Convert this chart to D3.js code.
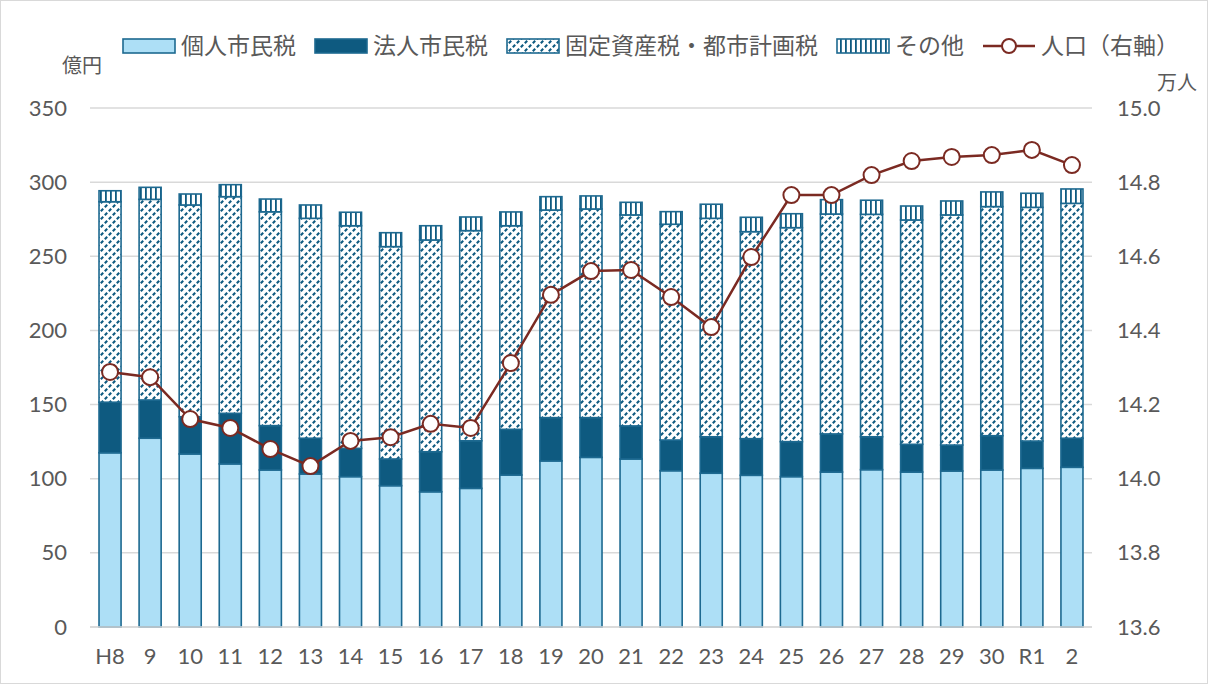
<!DOCTYPE html>
<html>
<head>
<meta charset="utf-8">
<script src="https://cdn.jsdelivr.net/npm/d3@7"></script>
<style>
  body { margin: 0; background: #fff; }
  svg text { font-family: "Lato", "Noto Sans CJK JP", sans-serif; fill: #595959; }
</style>
</head>
<body>
<svg id="chart" width="1208" height="684"></svg>
<script>
var categories = ["H8","9","10","11","12","13","14","15","16","17","18","19","20","21","22","23","24","25","26","27","28","29","30","R1","2"];
var kojin  = [117.5,127.3,116.7,110,105.9,103.2,101.4,95.3,91.2,93.5,102.5,112,114.4,113.3,105.4,103.7,102.3,101.4,104.5,106.1,104.5,105.2,105.9,107,107.7];
var hojin  = [34.1,25.8,25.1,34.1,29.9,24.1,19.1,18,27,32.1,30.8,29.2,26.8,22.3,20.7,24.6,24.7,23.6,25.7,22.2,18.7,17.5,23.1,18.4,19.6];
var kotei  = [135.2,135.3,142.8,146.1,144.2,148.3,150.1,143.2,142.8,141.7,137.3,140,140.7,142.3,145.5,147.3,139.6,144.3,148.3,150,151.3,155.2,154.5,157.6,158.4];
var sonota = [7.4,8.1,7.4,8.1,8.6,9,9.1,9.4,9.6,9.2,9.3,9,8.8,8.5,8.5,9.5,9.7,9.4,9.7,9.5,9.4,9.4,9.9,9.5,9.7];
var jinko  = [14.288,14.274,14.161,14.137,14.080,14.034,14.102,14.112,14.148,14.137,14.312,14.496,14.560,14.563,14.490,14.409,14.598,14.765,14.765,14.819,14.857,14.868,14.873,14.887,14.846];

var seriesNames = ["個人市民税","法人市民税","固定資産税・都市計画税","その他"];
var leftTicks = [0,50,100,150,200,250,300,350];
var rightTicks = [13.6,13.8,14.0,14.2,14.4,14.6,14.8,15.0];

var dark = "#0e5a80";
var edge = "#1d6990";
var lineColor = "#7b2a22";

var svg = d3.select("#chart");

// border
svg.append("rect").attr("x",0.5).attr("y",0.5).attr("width",1207).attr("height",683)
  .attr("fill","none").attr("stroke","#d9d9d9");

// patterns
var defs = svg.append("defs");
var p1 = defs.append("pattern").attr("id","diag").attr("patternUnits","userSpaceOnUse")
  .attr("width",8).attr("height",8);
p1.append("rect").attr("width",8).attr("height",8).attr("fill","#fff");
[[0.8,7.2,3.2,4.8],[4.8,3.2,7.2,0.8]].forEach(function(s) {
  p1.append("line").attr("x1",s[0]).attr("y1",s[1]).attr("x2",s[2]).attr("y2",s[3])
    .attr("stroke",dark).attr("stroke-width",2.1);
});
var p2 = defs.append("pattern").attr("id","vert").attr("patternUnits","userSpaceOnUse")
  .attr("width",5).attr("height",5);
p2.append("rect").attr("width",5).attr("height",5).attr("fill","#fff");
p2.append("rect").attr("x",0).attr("width",1.8).attr("height",5).attr("fill",dark);

var fills = ["#addff6", dark, "url(#diag)", "url(#vert)"];

var plotL = 90, plotR = 1092, plotT = 108, plotB = 627;

var x = d3.scaleBand().domain(categories).range([plotL, plotR])
  .paddingInner(0.45).paddingOuter(0.225);
var yL = d3.scaleLinear().domain([0,350]).range([plotB, plotT]);
var yR = d3.scaleLinear().domain([13.6,15.0]).range([plotB, plotT]);

// gridlines
svg.append("g").selectAll("line").data(leftTicks).join("line")
  .attr("x1",plotL).attr("x2",plotR)
  .attr("y1",d => yL(d)).attr("y2",d => yL(d))
  .attr("stroke","#d9d9d9").attr("stroke-width",1.5);

// axes
var axL = svg.append("g").attr("transform","translate(" + plotL + ",0)")
  .call(d3.axisLeft(yL).tickValues(leftTicks).tickSize(0).tickPadding(23));
var axR = svg.append("g").attr("transform","translate(" + plotR + ",0)")
  .call(d3.axisRight(yR).tickValues(rightTicks).tickSize(0).tickPadding(25).tickFormat(d3.format(".1f")));
var axB = svg.append("g").attr("transform","translate(0," + plotB + ")")
  .call(d3.axisBottom(x).tickSize(0).tickPadding(21));
[axL, axR, axB].forEach(function(a) {
  a.select(".domain").remove();
  a.selectAll("text").style("font-size","22px").attr("fill","#595959");
});

// stacked bars
var rows = categories.map(function(c, i) {
  return {cat: c, a: kojin[i], b: hojin[i], c: kotei[i], d: sonota[i]};
});
var stack = d3.stack().keys(["a","b","c","d"]);
var layers = stack(rows);

svg.append("g").selectAll("g").data(layers).join("g")
  .attr("fill", (d, i) => fills[i])
  .selectAll("rect").data(d => d).join("rect")
  .attr("x", d => x(d.data.cat))
  .attr("width", x.bandwidth())
  .attr("y", d => yL(d[1]))
  .attr("height", d => yL(d[0]) - yL(d[1]))
  .attr("stroke", edge).attr("stroke-width", 1.6);

svg.append("line").attr("x1",plotL).attr("x2",plotR).attr("y1",plotB).attr("y2",plotB)
  .attr("stroke","#d9d9d9").attr("stroke-width",1.5);

// population line
var line = d3.line()
  .x((d, i) => x(categories[i]) + x.bandwidth() / 2)
  .y(d => yR(d));
svg.append("path").datum(jinko).attr("d", line)
  .attr("fill","none").attr("stroke",lineColor).attr("stroke-width",2.5);
svg.append("g").selectAll("circle").data(jinko).join("circle")
  .attr("cx", (d, i) => x(categories[i]) + x.bandwidth() / 2)
  .attr("cy", d => yR(d))
  .attr("r", 8)
  .attr("fill","#fff").attr("stroke",lineColor).attr("stroke-width",2);

// unit labels
svg.append("text").attr("x",62).attr("y",73).text("億円").style("font-size","20px");
svg.append("text").attr("x",1157).attr("y",90).text("万人").style("font-size","20px");

// legend
var lg = svg.append("g");
var lx = 123, ly = 46;
seriesNames.concat(["人口（右軸）"]).forEach(function(name, i) {
  if (i < 4) {
    lg.append("rect").attr("x", lx).attr("y", ly - 7).attr("width", 52).attr("height", 14)
      .attr("fill", fills[i]).attr("stroke", edge).attr("stroke-width", 1.6);
  } else {
    lg.append("line").attr("x1", lx).attr("x2", lx + 52).attr("y1", ly).attr("y2", ly)
      .attr("stroke", lineColor).attr("stroke-width", 2.5);
    lg.append("circle").attr("cx", lx + 26).attr("cy", ly).attr("r", 7)
      .attr("fill","#fff").attr("stroke", lineColor).attr("stroke-width", 2);
  }
  var t = lg.append("text").attr("x", lx + 58).attr("y", ly).attr("dy","0.35em")
    .style("font-size","23px").text(name);
  lx = lx + 58 + t.node().getComputedTextLength() + 19;
});
</script>
</body>
</html>
